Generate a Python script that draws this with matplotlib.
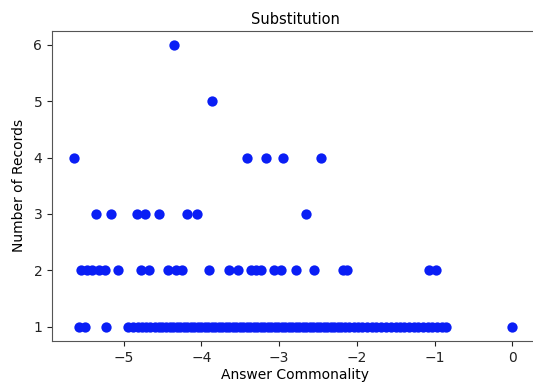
import matplotlib
matplotlib.use("Agg")
import matplotlib.pyplot as plt

# Answer commonality values, grouped by number of records
x_count6 = [-4.35]
x_count5 = [-3.86]
x_count4 = [-5.64, -3.41, -3.17, -2.95, -2.46]
x_count3 = [-5.36, -5.16, -4.83, -4.73, -4.55, -4.19, -4.05, -2.65]
x_count2 = [-5.55, -5.47, -5.40, -5.32, -5.24, -5.07, -4.78, -4.67, -4.43,
            -4.33, -4.25, -3.90, -3.64, -3.53, -3.36, -3.30, -3.23, -3.07,
            -2.98, -2.78, -2.55, -2.18, -2.12, -1.07, -0.98]
x_count1 = [-5.57, -5.49, -5.23, -4.94, -4.88, -4.82, -4.76, -4.71, -4.66,
            -4.60, -4.55, -4.50, -4.45, -4.40, -4.36, -4.31, -4.27, -4.22,
            -4.18, -4.13, -4.09, -4.04, -4.00, -3.95, -3.91, -3.86, -3.82,
            -3.77, -3.73, -3.68, -3.64, -3.59, -3.55, -3.50, -3.46, -3.41,
            -3.37, -3.32, -3.28, -3.23, -3.19, -3.14, -3.10, -3.05, -3.01,
            -2.96, -2.92, -2.87, -2.83, -2.78, -2.74, -2.69, -2.65, -2.60,
            -2.56, -2.51, -2.47, -2.42, -2.38, -2.33, -2.29, -2.24, -2.20,
            -2.15, -2.10, -2.04, -1.98, -1.93, -1.87, -1.80, -1.75, -1.69,
            -1.62, -1.56, -1.50, -1.45, -1.39, -1.33, -1.27, -1.21, -1.15,
            -1.09, -1.03, -0.97, -0.91, -0.85, 0.0]

groups = [(1, x_count1), (2, x_count2), (3, x_count3),
          (4, x_count4), (5, x_count5), (6, x_count6)]
xs = [v for c, vals in groups for v in vals]
ys = [c for c, vals in groups for v in vals]

fig = plt.figure(figsize=(5.33, 3.9), dpi=100)
ax = fig.add_axes([52 / 533, 49 / 390, 486 / 533, 310.5 / 390])
ax.scatter(xs, ys, s=55, color="#0a1ef5", linewidths=0)
ax.set_xlim(-5.92, 0.33)
ax.set_xticks([-5, -4, -3, -2, -1, 0])
ax.set_yticks([1, 2, 3, 4, 5, 6])
ax.tick_params(labelsize=10, colors="#222222")
for sp in ax.spines.values():
    sp.set_color("#555555")
ax.spines["right"].set_visible(False)
ax.set_title("Substitution", fontsize=10.5, pad=5)
ax.set_xlabel("Answer Commonality", fontsize=10, labelpad=2)
ax.set_ylabel("Number of Records", fontsize=10, labelpad=5)
fig.savefig("out.png", dpi=100)
